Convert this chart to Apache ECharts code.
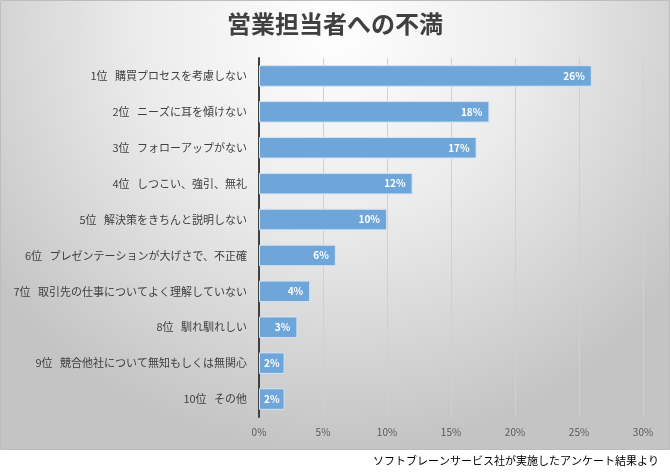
<!DOCTYPE html>
<html>
<head>
<meta charset="utf-8">
<script src="https://cdn.jsdelivr.net/npm/echarts@6/dist/echarts.min.js"></script>
<style>
html,body{margin:0;padding:0;background:#fff;}
#chart{width:670px;height:475px;}
</style>
</head>
<body>
<div id="chart"></div>
<script>
var titleText = '営業担当者への不満';
var sourceText = 'ソフトブレーンサービス社が実施したアンケート結果より';
var categories = [
  '1位   購買プロセスを考慮しない',
  '2位   ニーズに耳を傾けない',
  '3位   フォローアップがない',
  '4位   しつこい、強引、無礼',
  '5位   解決策をきちんと説明しない',
  '6位   プレゼンテーションが大げさで、不正確',
  '7位   取引先の仕事についてよく理解していない',
  '8位   馴れ馴れしい',
  '9位   競合他社について無知もしくは無関心',
  '10位   その他'
];
var values = [26, 18, 17, 12, 10, 6, 4, 3, 2, 2];
var xTicks = [0, 5, 10, 15, 20, 25, 30];

var chart = echarts.init(document.getElementById('chart'), null, {renderer: 'canvas'});
var font = '"Noto Sans CJK JP", "Noto Sans", sans-serif';
var barData = values.map(function (v) {
  return v < 3
    ? {value: v, label: {position: 'inside'}}
    : {value: v};
});
chart.setOption({
  animation: false,
  backgroundColor: '#ffffff',
  graphic: [
    {
      type: 'rect', z: -10, silent: true,
      shape: {x: 0.5, y: 0.5, width: 669, height: 449},
      style: {
        fill: new echarts.graphic.RadialGradient(0.5, 0.05, 0.95, [
          {offset: 0, color: '#ffffff'},
          {offset: 0.45, color: '#ececec'},
          {offset: 1, color: '#c4c4c4'}
        ]),
        stroke: '#bdbdbd', lineWidth: 1
      }
    },
    {
      type: 'text', right: 11, top: 455, silent: true,
      style: {text: sourceText, font: '11px ' + font, fill: '#000000'}
    }
  ],
  title: {
    text: titleText,
    left: 'center', top: 7,
    textStyle: {fontFamily: font, fontSize: 24, fontWeight: 'bold', color: '#404040'}
  },
  grid: {left: 259, right: 27, top: 58, bottom: 58, containLabel: false},
  xAxis: {
    type: 'value', min: 0, max: 30, interval: 5,
    axisLine: {show: false},
    axisTick: {show: false},
    splitLine: {show: true, lineStyle: {color: '#d0d0d0', width: 1}},
    axisLabel: {
      margin: 10,
      fontFamily: font, fontSize: 10, color: '#595959',
      formatter: function (v) { return xTicks.indexOf(v) >= 0 ? v + '%' : ''; }
    }
  },
  yAxis: {
    type: 'category', inverse: true, data: categories,
    axisLine: {show: true, lineStyle: {color: '#404040', width: 2}},
    axisTick: {show: false},
    axisLabel: {margin: 12, fontFamily: font, fontSize: 11, color: '#404040'}
  },
  series: [{
    type: 'bar', data: barData, barCategoryGap: '40%',
    itemStyle: {color: '#6fa6da', borderColor: '#d5e4f3', borderWidth: 1},
    label: {
      show: true, position: 'insideRight', distance: 7,
      formatter: '{c}%', color: '#ffffff', fontFamily: font,
      fontSize: 10, fontWeight: 'bold'
    }
  }]
});
</script>
</body>
</html>
